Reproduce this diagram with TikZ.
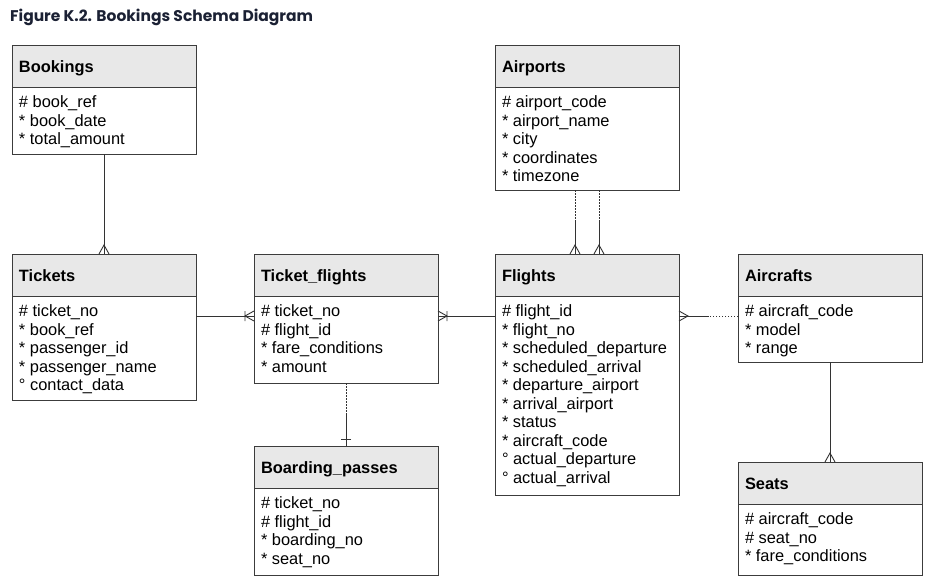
\documentclass[tikz,border=0pt]{standalone}
\usepackage{fontspec}
\setmainfont{Liberation Sans}
\newfontfamily\titlefont{Poppins}
\usetikzlibrary{calc}

\definecolor{titleblue}{HTML}{1B2134}
\definecolor{headgray}{HTML}{E8E8E8}
\definecolor{boxline}{HTML}{3C3C3C}
\definecolor{relline}{HTML}{333333}

\newcommand{\fieldfont}{\fontsize{16.4}{18.5}\selectfont}

% entity: name, left x, top y, title, body height, fields
\newcommand{\entity}[6]{%
  \node[head] (#1) at (#2,#3) {#4};
  \node[fields] (#1-f) at (#1.south) {\parbox[t][#5pt][t]{170pt}{\vspace*{6pt}#6}};
}
% dotted half at the first end, solid half at the second
\newcommand{\optline}[2]{%
  \draw[opt] (#1) -- ($(#1)!.5!(#2)$);
  \draw[rel] ($(#1)!.5!(#2)$) -- (#2);
}

\tikzset{
  head/.style={draw=boxline, line width=1pt, fill=headgray, anchor=north west,
    minimum width=184pt, minimum height=42pt, text width=170pt, inner xsep=7pt,
    outer sep=0pt, align=left, text height=12pt, text depth=0pt,
    font=\fieldfont\bfseries},
  fields/.style={draw=boxline, line width=1pt, fill=white, anchor=north,
    inner xsep=7pt, inner ysep=3pt, outer sep=0pt, font=\fieldfont},
  rel/.style={draw=relline, line width=0.9pt},
  opt/.style={rel, dash pattern=on 1.5pt off 1.5pt},
  crow/.pic={\draw[rel] (0,-5) -- (9,0) -- (0,5);},
  crowbar/.pic={\draw[rel] (0,-5) -- (9,0) -- (0,5) (9,-5) -- (9,5);},
  onebar/.pic={\draw[rel] (7,-5) -- (7,5);}
}

\begin{document}
\begin{tikzpicture}[x=1pt, y=1pt]
  \useasboundingbox (0,0) rectangle (935,-587);

  \node[anchor=base west, text=titleblue, inner sep=0pt,
    font=\titlefont\bfseries\fontsize{15.5}{18}\selectfont] (title) at (10,-21)
    {Figure K.2. Bookings Schema Diagram};

  \entity{bookings}{12}{-45}{Bookings}{61}
    {\# book\_ref\\{*} book\_date\\{*} total\_amount}
  \entity{tickets}{12}{-254}{Tickets}{98}
    {\# ticket\_no\\{*} book\_ref\\{*} passenger\_id\\{*} passenger\_name\\{°} contact\_data}
  \entity{tflights}{254}{-254}{Ticket\_flights}{81}
    {\# ticket\_no\\\# flight\_id\\{*} fare\_conditions\\{*} amount}
  \entity{boarding}{254}{-446}{Boarding\_passes}{81}
    {\# ticket\_no\\\# flight\_id\\{*} boarding\_no\\{*} seat\_no}
  \entity{airports}{495}{-45}{Airports}{97}
    {\# airport\_code\\{*} airport\_name\\{*} city\\{*} coordinates\\{*} timezone}
  \entity{flights}{495}{-254}{Flights}{193}
    {\# flight\_id\\{*} flight\_no\\{*} scheduled\_departure\\{*} scheduled\_arrival\\
     {*} departure\_airport\\{*} arrival\_airport\\{*} status\\{*} aircraft\_code\\
     {°} actual\_departure\\{°} actual\_arrival}
  \entity{aircrafts}{738}{-254}{Aircrafts}{60}
    {\# aircraft\_code\\{*} model\\{*} range}
  \entity{seats}{738}{-462}{Seats}{65}
    {\# aircraft\_code\\\# seat\_no\\{*} fare\_conditions}

  % relationships
  \draw[rel] (bookings-f.south) -- (tickets.north);
  \pic[rotate=90] at (tickets.north) {crow};

  \draw[rel] ([yshift=-20pt]tickets-f.north east) -- ([yshift=-20pt]tflights-f.north west);
  \pic[rotate=180] at ([yshift=-20pt]tflights-f.north west) {crowbar};

  \draw[rel] ([yshift=-20pt]flights-f.north west) -- ([yshift=-20pt]tflights-f.north east);
  \pic at ([yshift=-20pt]tflights-f.north east) {crowbar};

  \optline{[xshift=-12pt]airports-f.south}{[xshift=-12pt]flights.north}
  \optline{[xshift=12pt]airports-f.south}{[xshift=12pt]flights.north}
  \pic[rotate=90] at ([xshift=-12pt]flights.north) {crow};
  \pic[rotate=90] at ([xshift=12pt]flights.north) {crow};

  \optline{[yshift=-20pt]aircrafts-f.north west}{[yshift=-20pt]flights-f.north east}
  \pic at ([yshift=-20pt]flights-f.north east) {crow};

  \optline{tflights-f.south}{boarding.north}
  \pic[rotate=90] at (boarding.north) {onebar};

  \draw[rel] (aircrafts-f.south) -- (seats.north);
  \pic[rotate=90] at (seats.north) {crow};
\end{tikzpicture}
\end{document}
